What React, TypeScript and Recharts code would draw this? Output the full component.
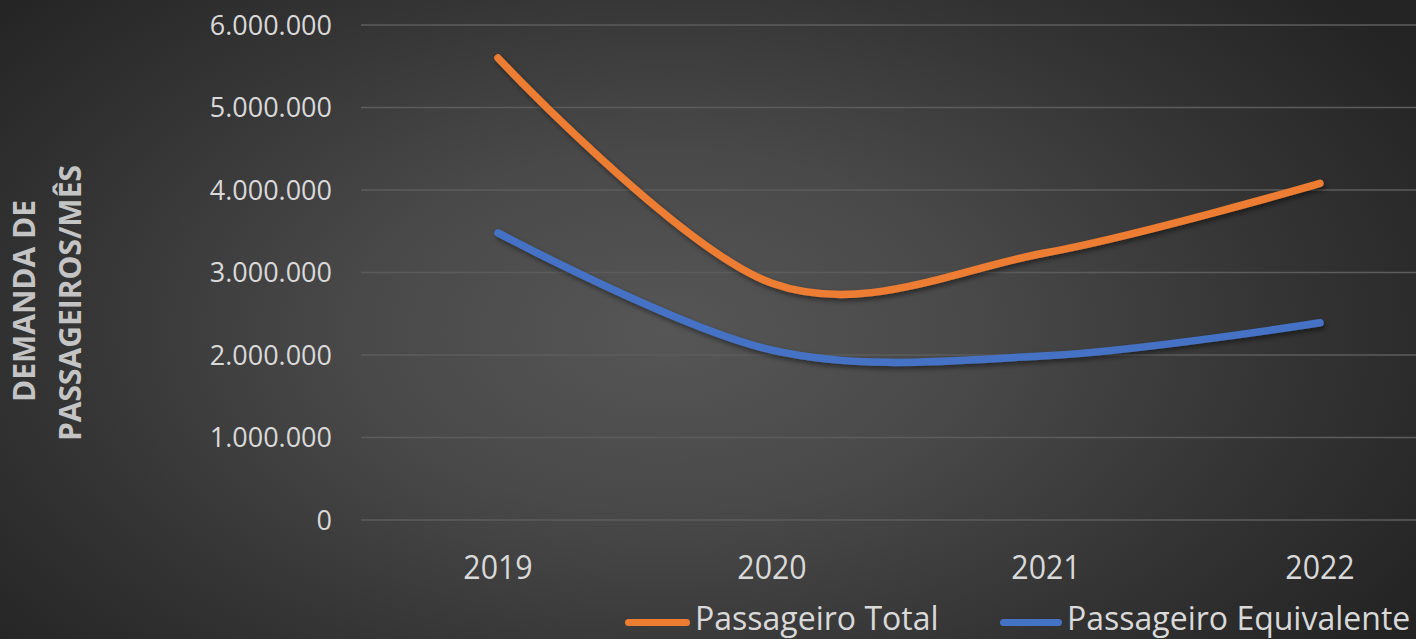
import { LineChart, Line, XAxis, YAxis, CartesianGrid } from 'recharts';

const years = ['2019', '2020', '2021', '2022'];
const passageiroTotal = [5600000, 2870000, 3240000, 4080000];
const passageiroEquivalente = [3480000, 2060000, 1990000, 2390000];
const yTicks = [0, 1000000, 2000000, 3000000, 4000000, 5000000, 6000000];
const seriesNames = ['Passageiro Total', 'Passageiro Equivalente'];
const yTitle = ['DEMANDA DE', 'PASSAGEIROS/MÊS'];

const ORANGE = '#ED7D31';
const BLUE = '#4472C4';
const TEXT = '#d9d9d9';

const data = years.map((year, i) => ({
  year,
  total: passageiroTotal[i],
  equivalente: passageiroEquivalente[i],
}));

// office-style smoothed line: cubic bezier through every point, tangents at 1/6 of neighbour span
function smoothCurve(context: any) {
  let x0 = NaN, y0 = NaN, x1 = NaN, y1 = NaN, x2 = NaN, y2 = NaN;
  let count = 0;
  const k = 1 / 6;
  const seg = (x: number, y: number) => {
    context.bezierCurveTo(
      x1 + k * (x2 - x0), y1 + k * (y2 - y0),
      x2 + k * (x1 - x), y2 + k * (y1 - y),
      x2, y2
    );
  };
  return {
    areaStart() {},
    areaEnd() {},
    lineStart() {
      x0 = x1 = x2 = y0 = y1 = y2 = NaN;
      count = 0;
    },
    lineEnd() {
      if (count === 2) context.lineTo(x2, y2);
      else if (count === 3) seg(x1, y1);
    },
    point(x: number, y: number) {
      switch (count) {
        case 0: count = 1; context.moveTo(x, y); break;
        case 1: count = 2; x1 = x; y1 = y; break;
        case 2: count = 3; seg(x, y); break;
        default: seg(x, y);
      }
      x0 = x1; x1 = x2; x2 = x;
      y0 = y1; y1 = y2; y2 = y;
    },
  };
}

const fmt = (v: number) => String(v).replace(/\B(?=(\d{3})+(?!\d))/g, '.');

const YearTick = ({ x, y, payload }: any) => (
  <g transform={`translate(${x},${y})`}>
    <text transform="scale(0.92,1)" textAnchor="middle" dy={59} fill={TEXT} fontSize={33} fontFamily="Open Sans">
      {payload.value}
    </text>
  </g>
);

const AxisTitle = () => (
  <g fill="#c4c4c4" fontSize={30} fontWeight="bold" fontFamily="Open Sans" textAnchor="middle">
    <text x={35} y={301} transform="rotate(-90, 35, 301)">{yTitle[0]}</text>
    <text x={81} y={303} transform="rotate(-90, 81, 303)">{yTitle[1]}</text>
  </g>
);

const legendItems = [
  { name: seriesNames[0], color: ORANGE, line: 625, lineW: 65, text: 695 },
  { name: seriesNames[1], color: BLUE, line: 1000, lineW: 62, text: 1067 },
];

export default function App() {
  return (
    <div
      style={{
        position: 'absolute',
        left: 0,
        top: 0,
        width: 1416,
        height: 639,
        overflow: 'hidden',
        background: 'radial-gradient(ellipse 62% 80% at 47% 52%, #565656 0%, #494949 35%, #343434 70%, #242424 100%)',
      }}
    >
      <LineChart width={1460} height={639} data={data} margin={{ top: 25, right: 3, left: 0, bottom: 59 }}>
        <defs>
          <filter id="lineShadow" x="-10%" y="-10%" width="120%" height="130%">
            <feDropShadow dx="2" dy="3" stdDeviation="2.5" floodColor="#000" floodOpacity="0.45" />
          </filter>
        </defs>
        <CartesianGrid vertical={false} stroke="#5c5c5c" strokeWidth={1.5} />
        <XAxis
          dataKey="year"
          height={60}
          axisLine={false}
          tickLine={false}
          tickSize={0}
          tickMargin={0}
          tick={<YearTick />}
          interval={0}
          padding={{ left: 137, right: 137 }}
        />
        <YAxis
          width={361}
          domain={[0, 6000000]}
          ticks={yTicks}
          axisLine={false}
          tickLine={false}
          tickSize={0}
          tickMargin={29}
          tickFormatter={fmt}
          tick={{ fill: TEXT, fontSize: 27, fontFamily: 'Open Sans' }}
          label={{ content: () => <AxisTitle /> }}
        />
        <Line
          type={smoothCurve as any}
          dataKey="total"
          name={seriesNames[0]}
          stroke={ORANGE}
          strokeWidth={7.5}
          strokeLinecap="round"
          dot={false}
          filter="url(#lineShadow)"
          isAnimationActive={false}
        />
        <Line
          type={smoothCurve as any}
          dataKey="equivalente"
          name={seriesNames[1]}
          stroke={BLUE}
          strokeWidth={7.5}
          strokeLinecap="round"
          dot={false}
          filter="url(#lineShadow)"
          isAnimationActive={false}
        />
      </LineChart>
      {legendItems.map((item) => (
        <div key={item.name}>
          <div
            style={{
              position: 'absolute',
              left: item.line,
              top: 618.5,
              width: item.lineW,
              height: 7,
              borderRadius: 4,
              background: item.color,
            }}
          />
          <div
            style={{
              position: 'absolute',
              left: item.text,
              top: 596,
              fontFamily: 'Open Sans',
              fontSize: 32,
              lineHeight: '44px',
              color: TEXT,
              whiteSpace: 'nowrap',
            }}
          >
            {item.name}
          </div>
        </div>
      ))}
    </div>
  );
}
